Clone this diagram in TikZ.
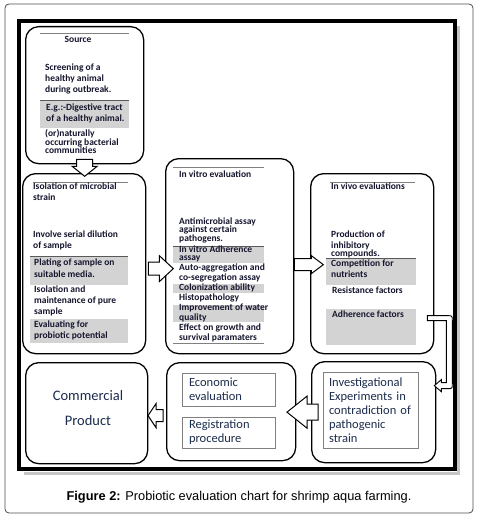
\documentclass[tikz,border=0pt]{standalone}
\usepackage{fontspec}
\setmainfont{Carlito}
\newfontfamily\capfont{Liberation Sans}
\usetikzlibrary{calc}
\definecolor{txt}{HTML}{15152E}
\definecolor{navy}{HTML}{1C2C4C}
\definecolor{gfill}{HTML}{D3D3D3}
\definecolor{gline}{HTML}{808080}
\begin{document}
\begin{tikzpicture}[x=1pt,y=-1pt,
  box/.style={draw=black, line width=1.3pt, rounded corners=13pt, inner sep=0pt, anchor=north west, fill=white},
  tx/.style={anchor=north west, inner sep=0pt, align=left, text=txt,
    font=\fontsize{9.5}{#1}\selectfont\bfseries, execute at begin node={\rule{0pt}{8pt}}},
  tx/.default=11,
  gbox/.style={fill=gfill, draw=none},
  topline/.style={draw=black!65, line width=1pt},
  rule/.style={draw=gline, line width=1pt},
  barrow/.style={draw=black, line width=1pt, fill=white, line join=miter},
  ibox/.style={draw=gline, line width=0.8pt, fill=white, inner xsep=7pt, inner ysep=0pt,
    align=left, text=navy, font=\fontsize{12.5}{14}\selectfont}]
\useasboundingbox (0,0) rectangle (477,524);
% frames
\draw[draw=black!70, line width=0.8pt, rounded corners=4pt] (5,4) rectangle (473,513);
\draw[gray!45, line width=3pt] (458,26) -- (458,473) -- (24,473);
\draw[line width=4pt] (19,21) rectangle (454.5,469);
% boxes
\node[box, minimum width=118pt, minimum height=137pt] (src) at (25,26) {};
\node[box, minimum width=123pt, minimum height=180pt] (iso) at (22,173) {};
\node[box, minimum width=128pt, minimum height=195pt] (ivt) at (165,158) {};
\node[box, minimum width=123pt, minimum height=180pt] (ivv) at (310,173) {};
\node[box, minimum width=122pt, minimum height=101pt] (com) at (25,362) {};
\node[box, minimum width=129pt, minimum height=98pt] (mid) at (166,362) {};
\node[box, minimum width=124pt, minimum height=101pt] (inv) at (311,361) {};
% source box fills
\draw[rule] (40,34) -- (129,34);
\fill[gbox] (40,101) rectangle (129,128);
\draw[topline] (40,101) -- (129,101);
% isolation
\draw[rule] (33,182) -- (128,182);
\fill[gbox] (30,256) rectangle (128,285);
\draw[topline] (30,256) -- (128,256);
\fill[gbox] (30,319) rectangle (128,343);
% in vitro
\draw[rule] (173,167) -- (264,167);
\fill[gbox] (173,246) rectangle (264,263);
\draw[topline] (173,246) -- (264,246);
\fill[gbox] (173,284) rectangle (264,293);
\fill[gbox] (173,305) rectangle (264,322);
\draw[rule] (173,343) -- (264,343);
% in vivo
\draw[rule] (330,182) -- (415,182);
\fill[gbox] (326,258) rectangle (416,285);
\draw[topline] (326,258) -- (416,258);
\fill[gbox] (326,309) rectangle (416,345);
% block arrows
\coordinate (d0) at ($(src.south)+(0,-5)$);
\draw[barrow] (d0) ++(-8,0) -- ++(0,7) -- ++(-4.5,0) -- ++(12.5,10) -- ++(12.5,-10) -- ++(-4.5,0) -- ++(0,-7) -- cycle;
\coordinate (a1) at ($(iso.east)+(2,5)$);
\draw[barrow] (a1) ++(0,-6.5) -- ++(11,0) -- ++(0,-6.5) -- ++(14,13) -- ++(-14,13) -- ++(0,-6.5) -- ++(-11,0) -- cycle;
\coordinate (a2) at ($(ivt.east)+(0,8.5)$);
\draw[barrow] (a2) ++(0,-6) -- ++(17,0) -- ++(0,-3) -- ++(12,9) -- ++(-12,9) -- ++(0,-3) -- ++(-17,0) -- cycle;
\coordinate (a3) at ($(mid.west)+(-3,4)$);
\draw[barrow] (a3) ++(0,-6) -- ++(-7,0) -- ++(0,-6) -- ++(-8,12) -- ++(8,12) -- ++(0,-6) -- ++(7,0) -- cycle;
\coordinate (a4) at ($(inv.west)+(7,0)$);
\draw[barrow] (a4) ++(0,-8) -- ++(-11,0) -- ++(0,-8) -- ++(-20,16) -- ++(20,16) -- ++(0,-8) -- ++(11,0) -- cycle;
\coordinate (b0) at ($(ivv.east)+(-7,52)$);
\begin{scope}[shift={(b0)}]
\draw[barrow, line width=0.9pt] (0,0) -- (20,0) .. controls (25,0) .. (25,5) -- (25,68) .. controls (25,73) .. (20,73) -- (14,73) -- (14,76) -- (7,70) -- (14,64) -- (14,67) -- (19,67) -- (19,5) -- (0,5) -- cycle;
\end{scope}
% texts: source
\node[anchor=base, inner sep=0pt, text=txt, font=\fontsize{9.5}{11}\selectfont\bfseries] (t1) at (78,42.3) {Source};
\node[tx] (t2) at (45,63.3) {Screening of a\\healthy animal\\during outbreak.};
\node[tx] (t3) at (46,103.3) {E.g.:-Digestive tract\\of a healthy animal.};
\node[tx=8.5] (t4) at (45,129.3) {(or)naturally\\occurring bacterial\\communities};
% isolation
\node[tx] (t5) at (33,182.3) {Isolation of microbial\\strain};
\node[tx] (t6) at (33,230.3) {Involve serial dilution\\of sample};
\node[tx=12] (t7) at (34,258.3) {Plating of sample on\\suitable media.};
\node[tx] (t8) at (34,285.3) {Isolation and\\maintenance of pure\\sample};
\node[tx] (t9) at (34,320.3) {Evaluating for\\probiotic potential};
% in vitro
\node[tx] (t10) at (179,169.3) {In vitro evaluation};
\node[tx=8.7] (t11) at (179,217.3) {Antimicrobial assay\\against certain\\pathogens.};
\node[tx=8] (t12) at (179,245.3) {In vitro Adherence\\assay};
\node[tx=10] (t13) at (179,263.3) {Auto-aggregation and\\co-segregation assay\\Colonization ability\\Histopathology\\Improvement of water\\quality\\Effect on growth and\\survival paramaters};
% in vivo
\node[tx] (t14) at (331,181.3) {In vivo evaluations};
\node[tx] (t15) at (331,230.3) {Production of\\inhibitory};
\node[tx] (t16) at (331,248.3) {compounds.};
\node[tx] (t17) at (331,259.3) {Competition for\\nutrients};
\node[tx] (t18) at (332,285.3) {Resistance factors};
\node[tx] (t19) at (332,309.3) {Adherence factors};
% bottom row
\node[align=center, text=navy, font=\fontsize{14.5}{25}\selectfont] (t20) at (88,408) {Commercial\\Product};
\node[ibox, text width=79pt, minimum height=33pt] (eco) at (228.5,389.5) {Economic\\evaluation};
\node[ibox, text width=79pt, minimum height=31pt] (reg) at (228.5,432.5) {Registration\\procedure};
\node[ibox, inner xsep=6pt, text width=83pt, minimum height=76pt] (invt) at (370.5,410) {Investigational\\Experiments in\\contradiction of\\pathogenic\\strain};
% caption
\node[anchor=base, inner sep=0pt, font=\capfont\fontsize{12.8}{14}\selectfont] (cap) at (239,500) {\textbf{Figure 2:} Probiotic evaluation chart for shrimp aqua farming.};
\end{tikzpicture}
\end{document}
